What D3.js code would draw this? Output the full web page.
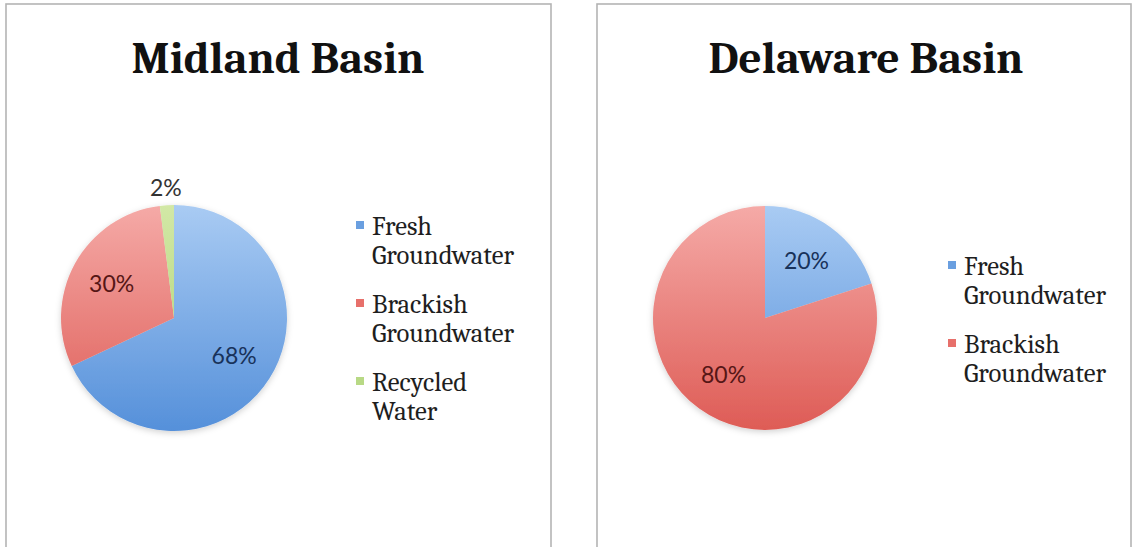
<!DOCTYPE html>
<html>
<head>
<meta charset="utf-8">
<script src="https://cdn.jsdelivr.net/npm/d3@7"></script>
<style>
  body { margin: 0; background: #fff; }
  svg { display: block; }
</style>
</head>
<body>
<svg id="chart" width="1133" height="547"></svg>
<script>
// Water sources used for hydraulic fracturing, share of total (%)
const midlandCategories = ["Fresh Groundwater", "Brackish Groundwater", "Recycled Water"];
const midlandValues = [68, 30, 2];
const delawareCategories = ["Fresh Groundwater", "Brackish Groundwater"];
const delawareValues = [20, 80];
const chartTitles = ["Midland Basin", "Delaware Basin"];

// Legend entries are wrapped onto two lines
const legendLines = {
  "Fresh Groundwater": ["Fresh", "Groundwater"],
  "Brackish Groundwater": ["Brackish", "Groundwater"],
  "Recycled Water": ["Recycled", "Water"]
};

// Gradient (top, bottom) and label colour for each source
const sourceStyle = {
  "Fresh Groundwater":    { top: "#a9cbf3", bottom: "#5590da", swatch: "#6a9fe0", label: "#18325a" },
  "Brackish Groundwater": { top: "#f5aaa7", bottom: "#de5c56", swatch: "#e7706b", label: "#561616" },
  "Recycled Water":       { top: "#d2e8a6", bottom: "#a9d06c", swatch: "#b8d985", label: "#333333" }
};

const svg = d3.select("#chart");
svg.append("rect").attr("width", 1133).attr("height", 547).attr("fill", "#fff");

const defs = svg.append("defs");
const shadow = defs.append("filter").attr("id", "pieShadow")
  .attr("x", "-20%").attr("y", "-20%").attr("width", "140%").attr("height", "140%");
shadow.append("feDropShadow").attr("dx", 0).attr("dy", 2)
  .attr("stdDeviation", 3).attr("flood-color", "#000").attr("flood-opacity", 0.18);

const serif = "Cambria, 'Liberation Serif', 'DejaVu Serif', serif";
const sans = "Lato, Carlito, 'Open Sans', sans-serif";

const panels = [
  { id: "midland", title: chartTitles[0], categories: midlandCategories, values: midlandValues,
    box: { x: 6, y: 4, w: 545, h: 560 }, titleX: 278, titleY: 73,
    pie: { cx: 174, cy: 318, r: 113 }, legend: { x: 356, y: 235 } },
  { id: "delaware", title: chartTitles[1], categories: delawareCategories, values: delawareValues,
    box: { x: 597, y: 4, w: 534, h: 560 }, titleX: 866, titleY: 73,
    pie: { cx: 765, cy: 318, r: 112 }, legend: { x: 948, y: 275 } }
];

// Font sizes sized to the available widths
function fitSize(text, family, weight, target, start) {
  const t = svg.append("text").attr("font-family", family).attr("font-weight", weight)
    .attr("font-size", start).text(text);
  const w = t.node().getComputedTextLength();
  t.remove();
  return start * target / w;
}
const titleSize = fitSize(chartTitles[0], serif, "bold", 293, 46);
const legendSize = fitSize("Groundwater", serif, "normal", 142, 20);

panels.forEach(p => {
  const g = svg.append("g").attr("class", p.id);

  // frame (runs past the bottom edge of the window)
  g.append("rect")
    .attr("x", p.box.x).attr("y", p.box.y).attr("width", p.box.w).attr("height", p.box.h)
    .attr("fill", "#fff").attr("stroke", "#b4b4b4").attr("stroke-width", 1.6);

  g.append("text")
    .attr("x", p.titleX).attr("y", p.titleY)
    .attr("text-anchor", "middle")
    .attr("font-family", serif).attr("font-weight", "bold")
    .attr("font-size", titleSize).attr("fill", "#111")
    .text(p.title);

  const { cx, cy, r } = p.pie;

  // vertical gradients spanning the whole pie (in the pie group's coordinates)
  const color = d3.scaleOrdinal().domain(p.categories)
    .range(p.categories.map((c, i) => `url(#${p.id}-grad-${i})`));
  p.categories.forEach((c, i) => {
    const lg = defs.append("linearGradient").attr("id", `${p.id}-grad-${i}`)
      .attr("gradientUnits", "userSpaceOnUse")
      .attr("x1", 0).attr("x2", 0).attr("y1", -r).attr("y2", r);
    lg.append("stop").attr("offset", "0%").attr("stop-color", sourceStyle[c].top);
    lg.append("stop").attr("offset", "100%").attr("stop-color", sourceStyle[c].bottom);
  });

  const total = d3.sum(p.values);
  const pie = d3.pie().sort(null).value(d => d.value);
  const arcs = pie(p.categories.map((c, i) => ({ category: c, value: p.values[i] })));
  const arc = d3.arc().innerRadius(0).outerRadius(r);
  const labelArc = d3.arc().innerRadius(r * 0.63).outerRadius(r * 0.63);
  const outsideArc = d3.arc().innerRadius(r * 1.15).outerRadius(r * 1.15);

  const pg = g.append("g").attr("transform", `translate(${cx},${cy})`);
  pg.append("g").attr("filter", "url(#pieShadow)")
    .selectAll("path").data(arcs).join("path")
    .attr("d", arc)
    .attr("fill", d => color(d.data.category));

  // percentage labels; thin slices get their label outside the rim
  pg.selectAll("text.pct").data(arcs).join("text")
    .attr("class", "pct")
    .attr("transform", d => {
      const share = d.data.value / total;
      const pos = (share < 0.05 ? outsideArc : labelArc).centroid(d);
      return `translate(${pos[0]},${pos[1]})`;
    })
    .attr("text-anchor", "middle").attr("dy", "0.35em")
    .attr("font-family", sans).attr("font-size", 23)
    .attr("fill", d => d.data.value / total < 0.05 ? "#333" : sourceStyle[d.data.category].label)
    .text(d => d3.format(".0%")(d.data.value / total));

  // legend
  const lineGap = 29, entryGap = 78;
  const lg = g.append("g").attr("class", "legend");
  p.categories.forEach((c, i) => {
    const y0 = p.legend.y + i * entryGap;
    lg.append("rect")
      .attr("x", p.legend.x).attr("y", y0 - 14).attr("width", 8).attr("height", 8)
      .attr("fill", sourceStyle[c].swatch);
    legendLines[c].forEach((line, j) => {
      lg.append("text")
        .attr("x", p.legend.x + 16).attr("y", y0 + j * lineGap)
        .attr("font-family", serif).attr("font-size", legendSize).attr("fill", "#1e1e1e")
        .text(line);
    });
  });
});
</script>
</body>
</html>
